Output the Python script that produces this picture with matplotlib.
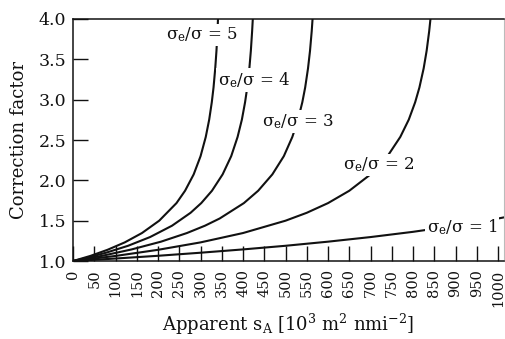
import matplotlib
matplotlib.use('Agg')
import matplotlib.pyplot as plt

plt.rcParams['font.family'] = ['DejaVu Serif']
plt.rcParams['mathtext.fontset'] = 'dejavuserif'

# apparent sA (10^3 m^2 nmi^-2) and correction factor, one pair per sigma_e/sigma
sa_1 = [0, 100, 200, 300, 400, 500, 600, 700, 800, 900, 1000, 1015]
cf_1 = [1.0, 1.031, 1.065, 1.103, 1.144, 1.189, 1.240, 1.297, 1.362, 1.438, 1.527, 1.542]

sa_2 = [0, 100, 200, 300, 400, 500, 550, 600, 650, 700, 740, 770, 790, 805, 815, 825, 832, 838, 841]
cf_2 = [1.0, 1.063, 1.139, 1.231, 1.347, 1.500, 1.598, 1.718, 1.871, 2.074, 2.300, 2.538, 2.753,
        2.968, 3.151, 3.388, 3.606, 3.849, 4.001]

sa_3 = [0, 69, 138, 207, 268, 310.5, 345, 402, 435.6, 469, 496, 516, 529.4, 539.5, 546.2, 552.9,
        557.6, 561.6, 563.6]
cf_3 = [1.0, 1.065, 1.144, 1.240, 1.347, 1.438, 1.527, 1.718, 1.871, 2.074, 2.300, 2.538, 2.753,
        2.968, 3.151, 3.388, 3.606, 3.849, 4.001]

sa_4 = [0, 25.9, 77.7, 129.5, 181.2, 233.0, 276.6, 301.7, 326.9, 352.0, 372.2, 387.2, 397.3, 404.8,
        409.9, 414.9, 418.4, 421.4, 423.0]
cf_4 = [1.0, 1.031, 1.103, 1.189, 1.297, 1.438, 1.598, 1.718, 1.871, 2.074, 2.300, 2.538, 2.753,
        2.968, 3.151, 3.388, 3.606, 3.849, 4.001]

sa_5 = [0, 40.6, 81.1, 121.7, 162.2, 202.8, 243.4, 263.6, 283.9, 300.1, 312.3, 320.4, 326.5, 330.6,
        334.6, 337.5, 339.9, 341.1]
cf_5 = [1.0, 1.063, 1.139, 1.231, 1.347, 1.500, 1.718, 1.871, 2.074, 2.300, 2.538, 2.753, 2.968,
        3.151, 3.388, 3.606, 3.849, 4.001]

ratios = [1, 2, 3, 4, 5]
x_ticks = list(range(0, 1001, 50))
y_ticks = [1.0, 1.5, 2.0, 2.5, 3.0, 3.5, 4.0]

# where each curve label sits (data coords)
label_pos = {1: (915, 1.425), 2: (719, 2.19), 3: (530, 2.73), 4: (425, 3.24), 5: (303, 3.80)}

fig = plt.figure(figsize=(5.05, 3.39), dpi=100)
ax = fig.add_axes([0.1446, 0.230, 0.8534, 0.714])

curves = [(sa_1, cf_1), (sa_2, cf_2), (sa_3, cf_3), (sa_4, cf_4), (sa_5, cf_5)]
for (sa, cf) in curves:
	ax.plot(sa, cf, color='#111111', lw=1.5, solid_joinstyle='round', zorder=2)

for r in ratios:
	x, y = label_pos[r]
	ax.text(x, y, r'σ$_\mathrm{e}$/σ = %d' % r, fontsize=12, ha='center', va='center',
		color='#111111', zorder=3,
		bbox=dict(fc='white', ec='none', pad=1.5))

ax.set_xlim(0, 1014)
ax.set_ylim(1.0, 4.0)
ax.set_xticks(x_ticks)
ax.set_xticklabels([str(t) for t in x_ticks], rotation=90, fontsize=10.5)
ax.set_yticks(y_ticks)
ax.set_yticklabels(['%.1f' % t for t in y_ticks], fontsize=12.5)
ax.tick_params(axis='both', direction='in', length=11, width=1.0, color='#111111', labelcolor='#111111')
ax.tick_params(axis='y', pad=5)
ax.tick_params(axis='x', pad=6)

for s in ['left', 'top', 'bottom']:
	ax.spines[s].set_linewidth(1.1)
	ax.spines[s].set_color('#111111')
ax.spines['right'].set_color('#bbbbbb')
ax.spines['right'].set_linewidth(0.8)

ax.set_ylabel('Correction factor', fontsize=13, color='#111111')
ax.yaxis.set_label_coords(-0.105, 0.5)
ax.set_xlabel(r'Apparent $\mathrm{s_A}$ [$\mathrm{10^3\ m^2\ nmi^{-2}}$]', fontsize=13, color='#111111')
ax.xaxis.set_label_coords(0.5, -0.21)

fig.savefig('out.png', dpi=100, facecolor='white')
